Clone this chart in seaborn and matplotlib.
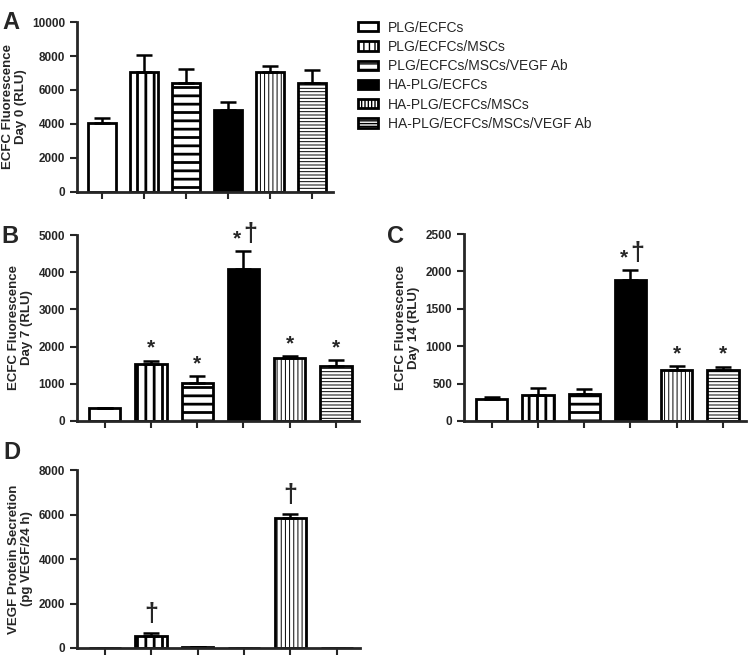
import numpy as np
import pandas as pd
import matplotlib
matplotlib.use('Agg')
import matplotlib.pyplot as plt
from matplotlib.patches import Patch
import seaborn as sns

sns.set_style('ticks')
plt.rcParams['font.family'] = ['Liberation Sans', 'DejaVu Sans']

# groups (legend order)
groups = ['PLG/ECFCs', 'PLG/ECFCs/MSCs', 'PLG/ECFCs/MSCs/VEGF Ab',
          'HA-PLG/ECFCs', 'HA-PLG/ECFCs/MSCs', 'HA-PLG/ECFCs/MSCs/VEGF Ab']

# panel A - day 0
day0_vals = [4080, 7050, 6400, 4830, 7060, 6420]
day0_err = [280, 1000, 830, 450, 380, 740]

# panel B - day 7
day7_vals = [345, 1520, 1025, 4085, 1700, 1475]
day7_err = [0, 105, 185, 475, 50, 170]
day7_marks = ['', '*', '*', '*†', '*', '*']

# panel C - day 14
day14_vals = [290, 352, 366, 1888, 685, 675]
day14_err = [27, 85, 68, 125, 52, 52]
day14_marks = ['', '', '', '*†', '*', '*']

# panel D - VEGF secretion
vegf_vals = [15, 530, 30, 12, 5860, 0]
vegf_err = [0, 160, 0, 0, 160, 0]
vegf_marks = ['', '†', '', '', '†', '']

fills = ['white', 'white', 'white', 'black', 'white', 'white']
hatches = [None, '||', '--', None, '||||', '-----']
hatch_lw = [1.0, 2.0, 2.0, 1.0, 0.7, 0.7]
# legend boxes are small, so they get a denser pattern
legend_hatches = [None, '|||', '---', None, '|||||', '------']


def set_hatch(p, h, lw):
    p.set_hatch(h)
    if hasattr(p, 'set_hatch_linewidth'):
        p.set_hatch_linewidth(lw)


def draw_panel(ax, vals, errs, ymax, ystep, ylabel, marks=None):
    df = pd.DataFrame({'group': groups, 'value': vals})
    sns.barplot(data=df, x='group', y='value', ax=ax, color='white',
                edgecolor='black', linewidth=2, width=0.68, errorbar=None,
                saturation=1)
    for p, fc, h, hlw in zip(ax.patches, fills, hatches, hatch_lw):
        p.set_facecolor(fc)
        if h:
            set_hatch(p, h, hlw)
    ax.errorbar(np.arange(6), vals, yerr=[np.zeros(6), errs], fmt='none',
                ecolor='black', elinewidth=1.8, capsize=5.5, capthick=1.8, zorder=1)
    ax.set_ylim(0, ymax)
    ax.set_yticks(np.arange(0, ymax + 1, ystep))
    ax.set_xlim(-0.6, 5.5)
    ax.set_xticks(np.arange(6))
    ax.set_xticklabels([])
    ax.set_xlabel('')
    ax.set_ylabel(ylabel, fontsize=9.5, fontweight='bold', linespacing=1.1)
    ax.tick_params(axis='both', direction='out', length=5, width=1.5, labelsize=8.5)
    ax.set_yticklabels([str(t) for t in ax.get_yticks().astype(int)], fontweight='bold')
    sns.despine(ax=ax)
    for s in ['left', 'bottom']:
        ax.spines[s].set_linewidth(2)
    if marks:
        for i, m in enumerate(marks):
            if not m:
                continue
            top = vals[i] + errs[i]
            if m == '*':
                ax.annotate('*', (i, top), xytext=(0, 2), textcoords='offset points',
                            ha='center', va='bottom', fontsize=15, fontweight='bold')
            elif m == '†':
                ax.annotate('†', (i, top), xytext=(0, 5), textcoords='offset points',
                            ha='center', va='bottom', fontsize=18, fontweight='bold')
            else:
                ax.annotate('*', (i, top), xytext=(-5, 2), textcoords='offset points',
                            ha='center', va='bottom', fontsize=15, fontweight='bold')
                ax.annotate('†', (i, top), xytext=(5, 4), textcoords='offset points',
                            ha='center', va='bottom', fontsize=18, fontweight='bold')


fig = plt.figure(figsize=(7.5, 6.55), dpi=100)
axA = fig.add_axes([0.1027, 0.7069, 0.3413, 0.2595])
axB = fig.add_axes([0.1027, 0.3573, 0.376, 0.2839])
axC = fig.add_axes([0.6187, 0.3573, 0.376, 0.2854])
axD = fig.add_axes([0.1027, 0.0107, 0.3773, 0.2717])

draw_panel(axA, day0_vals, day0_err, 10000, 2000, 'ECFC Fluorescence\nDay 0 (RLU)')
draw_panel(axB, day7_vals, day7_err, 5000, 1000, 'ECFC Fluorescence\nDay 7 (RLU)', day7_marks)
draw_panel(axC, day14_vals, day14_err, 2500, 500, 'ECFC Fluorescence\nDay 14 (RLU)', day14_marks)
draw_panel(axD, vegf_vals, vegf_err, 8000, 2000, 'VEGF Protein Secretion\n(pg VEGF/24 h)', vegf_marks)

# panel letters
for letter, px, py in [('A', 2, 11), ('B', 1, 225), ('C', 387, 225), ('D', 3, 441)]:
    fig.text(px / 750, 1 - py / 655, letter, fontsize=17, fontweight='bold',
             ha='left', va='top')

handles = []
for fc, h, hlw in zip(fills, legend_hatches, hatch_lw):
    p = Patch(facecolor=fc, edgecolor='black', linewidth=2)
    if h:
        set_hatch(p, h, hlw)
    handles.append(p)
fig.legend(handles, groups, loc='upper left', bbox_to_anchor=(0.47, 0.977),
           frameon=False, fontsize=10, handlelength=1.44, handleheight=0.65,
           handletextpad=0.72, labelspacing=0.38, borderaxespad=0)

fig.savefig('out.png', dpi=100)
